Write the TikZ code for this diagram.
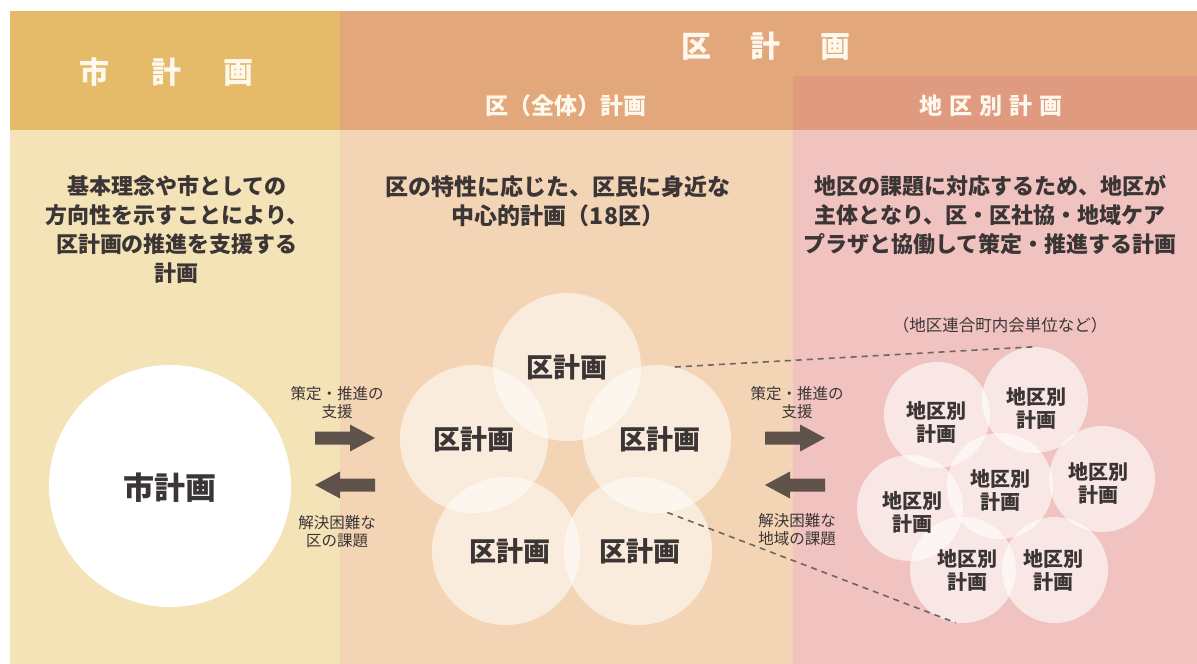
\documentclass[tikz,border=0pt]{standalone}
\usepackage{fontspec}
\setmainfont{Noto Sans CJK JP}
\usetikzlibrary{calc}
\definecolor{lhead}{HTML}{E5BB69}
\definecolor{lbody}{HTML}{F4E3B7}
\definecolor{mhead}{HTML}{E2A87B}
\definecolor{rhead}{HTML}{DF9A80}
\definecolor{mbody}{HTML}{F3D5B5}
\definecolor{rbody}{HTML}{F0C3C0}
\definecolor{ink}{HTML}{3B3535}
\definecolor{arrcol}{HTML}{5E524B}
\definecolor{htxt}{HTML}{FFF8EC}
\definecolor{dash}{HTML}{6E6663}
\newcommand{\fsz}[2]{\fontsize{#1pt}{#2pt}\selectfont}
\tikzset{
  hdtext/.style={text=htxt, inner sep=0, font=\fsz{30}{34}\bfseries},
  subhd/.style={text=htxt, inner sep=0, font=\fsz{23}{27}\bfseries},
  desc/.style={text=ink, inner sep=0, align=center, font=\fsz{22}{29}\bfseries},
  small/.style={text=ink, inner sep=0, align=center, font=\fsz{15.5}{18}},
  kcirc/.style={circle, fill=white, fill opacity=0.55, inner sep=0, minimum size=148pt},
  ccirc/.style={circle, fill=white, fill opacity=0.6, inner sep=0, minimum size=106pt},
  klabel/.style={text=ink, inner sep=0, font=\fsz{27}{30}\bfseries},
  clabel/.style={text=ink, inner sep=0, align=center, font=\fsz{20}{23}\bfseries},
  dashline/.style={draw=dash, line width=1.6pt, dash pattern=on 6pt off 5pt},
  rarr/.pic={\fill[arrcol] (0,-6.5) -- (35,-6.5) -- (35,-13.5) -- (60,0) -- (35,13.5) -- (35,6.5) -- (0,6.5) -- cycle;},
  larr/.pic={\fill[arrcol] (0,-6.5) -- (-35,-6.5) -- (-35,-13.5) -- (-60,0) -- (-35,13.5) -- (-35,6.5) -- (0,6.5) -- cycle;}
}
\begin{document}
\begin{tikzpicture}[x=1pt,y=-1pt]
\useasboundingbox (0,0) rectangle (1197,664);
\fill[white] (0,0) rectangle (1197,664);
% column backgrounds
\fill[lhead] (10,11) rectangle (340,130);
\fill[lbody] (10,130) rectangle (340,664);
\fill[mhead] (340,11) rectangle (1197,130);
\fill[rhead] (793,76) rectangle (1197,130);
\fill[mbody] (340,130) rectangle (793,664);
\fill[rbody] (793,130) rectangle (1197,664);
% headers
\node[hdtext] (hcity) at (166,72) {市\hspace{42pt}計\hspace{42pt}画};
\node[hdtext] (hward) at (766,46) {区\hspace{40pt}計\hspace{40pt}画};
\node[subhd] (hwhole) at (566,106) {区（全体）計画};
\node[subhd] (hdist) at (991,106) {地\hspace{7pt}区\hspace{7pt}別\hspace{7pt}計\hspace{7pt}画};
% descriptions
\node[desc] (dcity) at (177,230) {基本理念や市としての\\方向性を示すことにより、\\区計画の推進を支援する\\計画};
\node[desc, font=\fsz{23}{29}\bfseries] (dward) at (558,201.5) {区の特性に応じた、区民に身近な\\中心的計画（18区）};
\node[desc] (ddist) at (990,215) {地区の課題に対応するため、地区が\\主体となり、区・区社協・地域ケア\\プラザと協働して策定・推進する計画};
% city circle
\node[circle, fill=white, minimum size=242pt, inner sep=0] (city) at (170,486) {};
\node[text=ink, inner sep=0, font=\fsz{31}{34}\bfseries] (cityt) at (170,488) {市計画};
% ward circles
\node[kcirc] (kT) at (567,367) {};
\node[kcirc] (kL) at (474,439) {};
\node[kcirc] (kR) at (657,439) {};
\node[kcirc] (kBL) at (506,551) {};
\node[kcirc] (kBR) at (638,551) {};
\node[klabel] at (kT) {区計画};
\node[klabel] at (kL) {区計画};
\node[klabel] at ($(kR)+(3,0)$) {区計画};
\node[klabel] at ($(kBL)+(4,0)$) {区計画};
\node[klabel] at ($(kBR)+(2,0)$) {区計画};
% district cluster
\node[small, font=\fsz{16.5}{19}] (unit) at (1000,325) {（地区連合町内会単位など）};
\node[ccirc] (c1) at (937,415) {};
\node[ccirc] (c2) at (1035,400) {};
\node[ccirc] (c3) at (1102,479) {};
\node[ccirc] (c4) at (1000,486) {};
\node[ccirc] (c5) at (910,508) {};
\node[ccirc] (c6) at (963,570) {};
\node[ccirc] (c7) at (1055,570) {};
\node[clabel] at (936,422) {地区別\\計画};
\node[clabel] at (1036,408) {地区別\\計画};
\node[clabel] at (1098,483) {地区別\\計画};
\node[clabel] at (1000,490) {地区別\\計画};
\node[clabel] at (912,512) {地区別\\計画};
\node[clabel] at (967,570) {地区別\\計画};
\node[clabel] at (1053,570) {地区別\\計画};
% dashed guide lines
\draw[dashline] (kR.76) -- (c2.92);
\draw[dashline] (kR.-82) -- (c6.-98);
% arrows left
\node[small] (sup1) at (337,403) {策定・推進の\\支援};
\pic at (315,438) {rarr};
\pic at (375,485) {larr};
\node[small] (iss1) at (337,532) {解決困難な\\区の課題};
% arrows right
\node[small] (sup2) at (797,403) {策定・推進の\\支援};
\pic at (765,438) {rarr};
\pic at (825,485) {larr};
\node[small] (iss2) at (797,530) {解決困難な\\地域の課題};
\end{tikzpicture}
\end{document}
